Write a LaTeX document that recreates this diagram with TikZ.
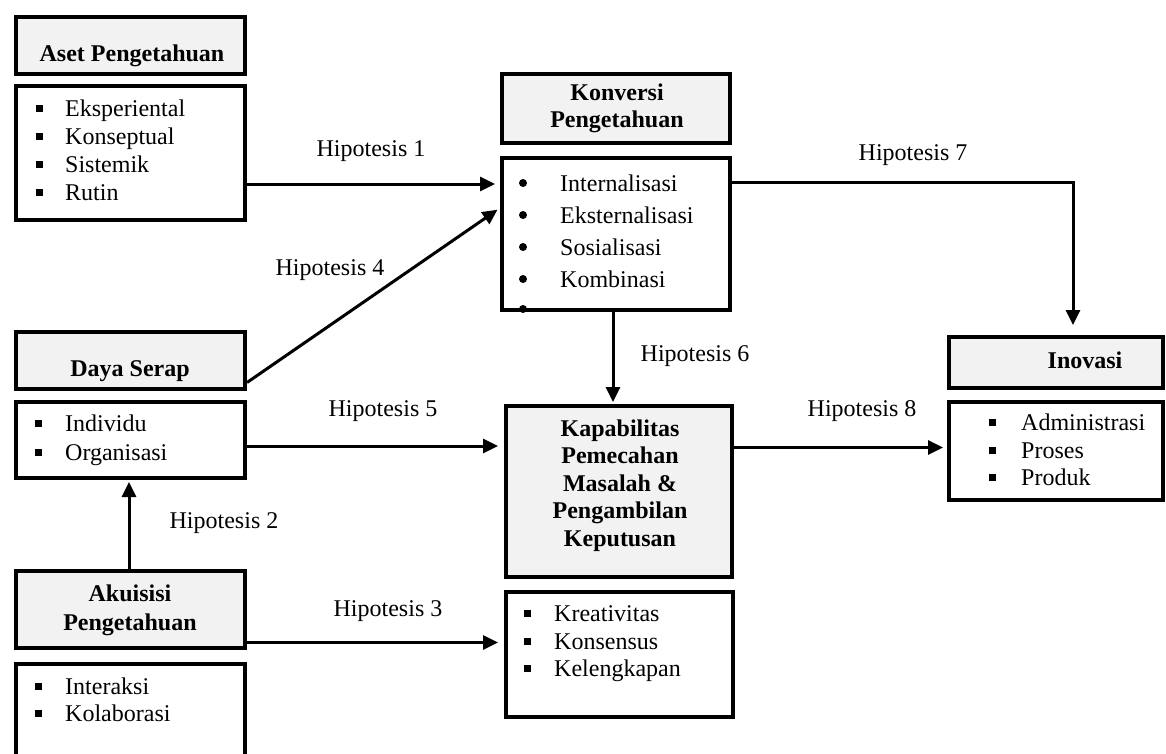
\documentclass[tikz,border=0pt]{standalone}
\usepackage{fontspec}
\setmainfont{Liberation Serif}
\usetikzlibrary{arrows.meta,calc}
\definecolor{hdrgray}{HTML}{F2F2F2}
\begin{document}
\begin{tikzpicture}[x=1pt,y=-1pt,
  box/.style={draw, line width=4pt, inner sep=0pt, anchor=north west},
  hdr/.style={box, fill=hdrgray},
  txt/.style={font=\fontsize{24}{28}\selectfont, inner sep=0pt, anchor=base west},
  btxt/.style={font=\fontsize{24}{28}\selectfont\bfseries, inner sep=0pt, anchor=base},
  lbl/.style={font=\fontsize{24}{28}\selectfont, inner sep=0pt, anchor=base},
  sqb/.style={fill, minimum size=7pt, inner sep=0pt},
  rdb/.style={circle, fill, minimum size=8pt, inner sep=0pt},
  arr/.style={line width=3pt, -{Triangle[length=15pt,width=14pt]}}
]
\useasboundingbox (0,0) rectangle (1166,753);
\clip (0,0) rectangle (1166,753);

% ---------- Aset Pengetahuan
\node[hdr, minimum width=229pt, minimum height=57pt] (asetH) at (14,15) {};
\node[btxt] (asetT) at (132,61) {Aset Pengetahuan};
\node[box, minimum width=229pt, minimum height=134pt] (asetL) at (14,84) {};
\node[sqb] (ab1) at (39,108) {}; \node[txt] (a1) at (65,116) {Eksperiental};
\node[sqb] (ab2) at (39,136) {}; \node[txt] (a2) at (65,144) {Konseptual};
\node[sqb] (ab3) at (39,164) {}; \node[txt] (a3) at (65,172) {Sistemik};
\node[sqb] (ab4) at (39,192) {}; \node[txt] (a4) at (65,200) {Rutin};

% ---------- Konversi Pengetahuan
\node[hdr, minimum width=228pt, minimum height=69pt] (konvH) at (500,72) {};
\node[btxt] (konvT1) at (617,100) {Konversi};
\node[btxt] (konvT2) at (617,127) {Pengetahuan};
\node[box, minimum width=228pt, minimum height=152pt] (konvL) at (500,156) {};
\node[rdb] (kb1) at (523,183) {}; \node[txt] (k1) at (560,191) {Internalisasi};
\node[rdb] (kb2) at (523,215) {}; \node[txt] (k2) at (560,223) {Eksternalisasi};
\node[rdb] (kb3) at (523,247) {}; \node[txt] (k3) at (560,255) {Sosialisasi};
\node[rdb] (kb4) at (523,279) {}; \node[txt] (k4) at (560,287) {Kombinasi};
\node[rdb] (kb5) at (523,309) {};

% ---------- Daya Serap
\node[hdr, minimum width=229pt, minimum height=57pt] (dayaH) at (14,330) {};
\node[btxt] (dayaT) at (130,376) {Daya Serap};
\node[box, minimum width=229pt, minimum height=76pt] (dayaL) at (14,400) {};
\node[sqb] (db1) at (38,423) {}; \node[txt] (d1) at (65,431) {Individu};
\node[sqb] (db2) at (38,452) {}; \node[txt] (d2) at (65,460) {Organisasi};

% ---------- Akuisisi Pengetahuan
\node[hdr, minimum width=229pt, minimum height=77pt] (akuH) at (14,569) {};
\node[btxt] (akuT1) at (130,601) {Akuisisi};
\node[btxt] (akuT2) at (130,630) {Pengetahuan};
\node[box, minimum width=229pt, minimum height=110pt] (akuL) at (14,662) {};
\node[sqb] (ub1) at (38,686) {}; \node[txt] (u1) at (65,694) {Interaksi};
\node[sqb] (ub2) at (38,713) {}; \node[txt] (u2) at (65,721) {Kolaborasi};

% ---------- Kapabilitas
\node[hdr, minimum width=226pt, minimum height=171pt] (kapH) at (504,404) {};
\node[btxt] (kapT1) at (620,436) {Kapabilitas};
\node[btxt] (kapT2) at (620,463) {Pemecahan};
\node[btxt] (kapT3) at (620,491) {Masalah \&};
\node[btxt] (kapT4) at (620,518) {Pengambilan};
\node[btxt] (kapT5) at (620,546) {Keputusan};
\node[box, minimum width=227pt, minimum height=125pt] (kapL) at (504,590) {};
\node[sqb] (pb1) at (527,613) {}; \node[txt] (p1) at (554,621) {Kreativitas};
\node[sqb] (pb2) at (527,641) {}; \node[txt] (p2) at (554,649) {Konsensus};
\node[sqb] (pb3) at (527,668) {}; \node[txt] (p3) at (554,676) {Kelengkapan};

% ---------- Inovasi
\node[hdr, minimum width=214pt, minimum height=51pt] (inovH) at (947,335) {};
\node[btxt] (inovT) at (1085,368) {Inovasi};
\node[box, minimum width=214pt, minimum height=98pt] (inovL) at (947,400) {};
\node[sqb] (ib1) at (992,422) {}; \node[txt] (i1) at (1021,430) {Administrasi};
\node[sqb] (ib2) at (992,450) {}; \node[txt] (i2) at (1021,458) {Proses};
\node[sqb] (ib3) at (992,477) {}; \node[txt] (i3) at (1021,485) {Produk};

% ---------- connectors
\coordinate (h1s) at ($(asetL.east)+(0,31)$);
\draw[arr, shorten >=5pt] (h1s) -- (h1s -| konvL.west);
\coordinate (h4s) at ($(dayaH.east)+(0,22)$);
\coordinate (h4e) at ($(konvL.west)+(0,-26)$);
\draw[arr, shorten >=3pt] (h4s) -- (h4e);
\coordinate (h5s) at ($(dayaL.east)+(0,6)$);
\draw[arr, shorten >=6pt] (h5s) -- (h5s -| kapH.west);
\coordinate (h6s) at ($(konvL.south)+(-3,0)$);
\draw[arr, shorten >=2pt] (h6s) -- (h6s |- kapH.north);
\coordinate (h7s) at ($(konvL.east)+(0,-52)$);
\coordinate (h7e) at ($(inovH.north)+(17,0)$);
\draw[arr, shorten >=10pt] (h7s) -| (h7e);
\coordinate (h8s) at ($(kapH.east)+(0,-44)$);
\draw[arr, shorten >=4pt] (h8s) -- (h8s -| inovL.west);
\coordinate (h2s) at ($(akuH.north)+(-1.5,0)$);
\draw[arr, shorten >=2pt] (h2s) -- (h2s |- dayaL.south);
\coordinate (h3s) at ($(akuH.east)+(0,33)$);
\draw[arr, shorten >=6pt] (h3s) -- (h3s -| kapL.west);

% ---------- labels
\node[lbl] (l1) at (371,156) {Hipotesis 1};
\node[lbl] (l2) at (224,528) {Hipotesis 2};
\node[lbl] (l3) at (388,616) {Hipotesis 3};
\node[lbl] (l4) at (330,275) {Hipotesis 4};
\node[lbl] (l5) at (383,416) {Hipotesis 5};
\node[lbl] (l6) at (695,361) {Hipotesis 6};
\node[lbl] (l7) at (913,160) {Hipotesis 7};
\node[lbl] (l8) at (862,416) {Hipotesis 8};
\end{tikzpicture}
\end{document}
